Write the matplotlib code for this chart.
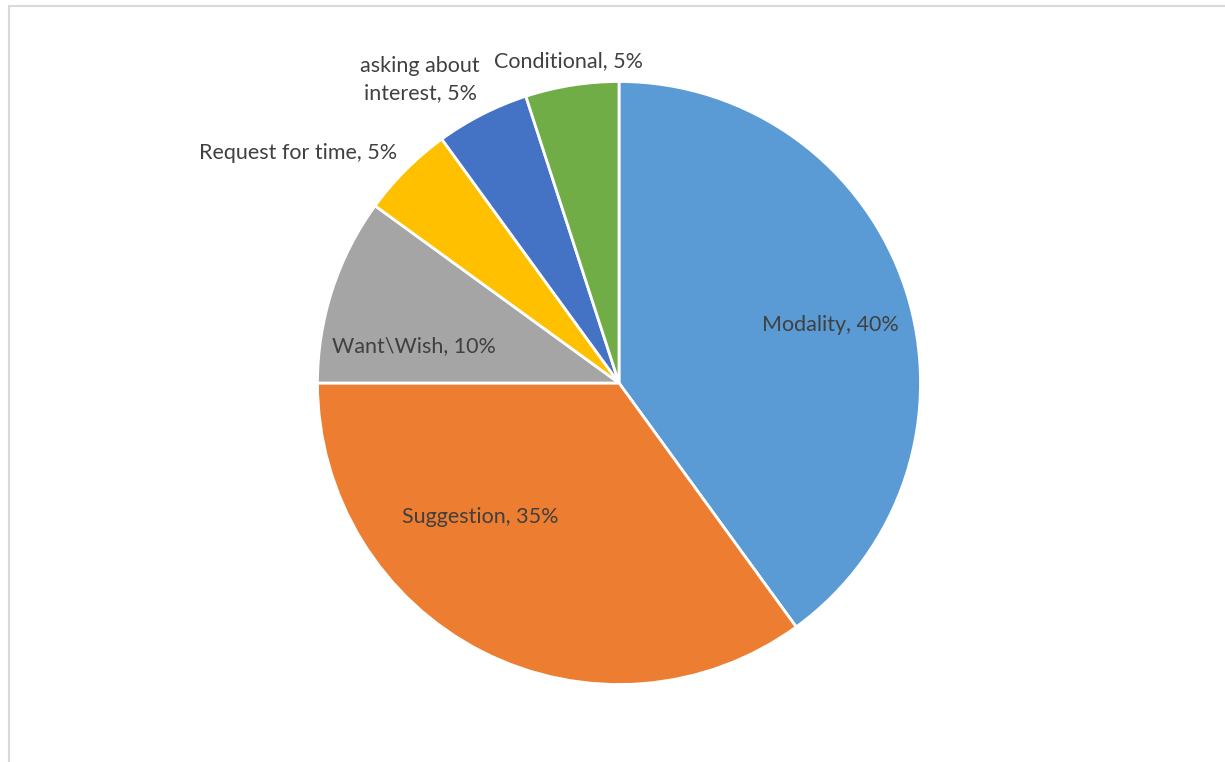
import matplotlib.pyplot as plt
from matplotlib.lines import Line2D

plt.rcParams['font.family'] = ['Lato', 'DejaVu Sans']

categories = ['Modality', 'Suggestion', 'Want\\Wish', 'Request for time',
              'asking about\ninterest', 'Conditional']
shares = [40, 35, 10, 5, 5, 5]
colors = ['#5B9BD5', '#ED7D31', '#A5A5A5', '#FFC000', '#4472C4', '#70AD47']

# label anchor points, in pie radius units from the centre
label_xy = [(0.700, 0.192), (-0.461, -0.444), (-0.680, 0.123),
            (-1.065, 0.763), (-0.660, 1.005), (-0.166, 1.068)]

fig = plt.figure(figsize=(12.25, 7.62), dpi=100)
ax = fig.add_axes([0, 0, 1, 1])

ax.pie(shares, colors=colors, startangle=90, counterclock=False,
       radius=1.0, wedgeprops=dict(edgecolor='white', linewidth=2))

for name, val, (x, y) in zip(categories, shares, label_xy):
    ax.text(x, y, f'{name}, {val}%', ha='center', va='center',
            fontsize=15.5, color='#404040', linespacing=1.45)

ax.set_xlim(-619 / 301.5, (1225 - 619) / 301.5)
ax.set_ylim(-(762 - 383) / 301.5, 383 / 301.5)
ax.set_aspect('auto')
ax.axis('off')

# chart area frame (top and left edges)
fig.add_artist(Line2D([8.5 / 1225, 1], [1 - 5.5 / 762, 1 - 5.5 / 762],
                      color='#D9D9D9', linewidth=1.5, transform=fig.transFigure))
fig.add_artist(Line2D([8.5 / 1225, 8.5 / 1225], [0, 1 - 5.5 / 762],
                      color='#D9D9D9', linewidth=1.5, transform=fig.transFigure))

fig.savefig('out.png', dpi=100, facecolor='white')
